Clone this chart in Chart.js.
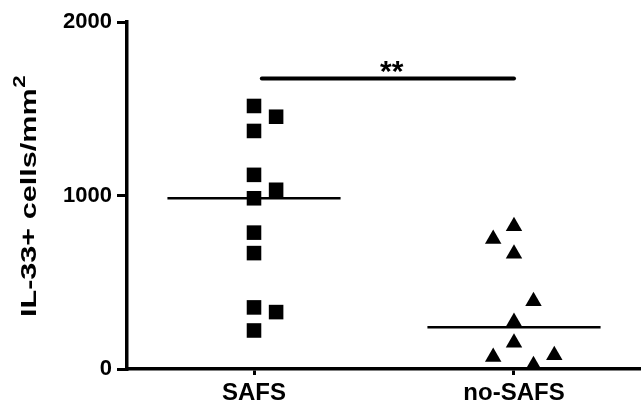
<!DOCTYPE html>
<html>
<head>
<meta charset="utf-8">
<script src="https://cdn.jsdelivr.net/npm/chart.js@4/dist/chart.umd.min.js"></script>
<style>
  body { margin: 0; background: #fff; }
  #wrap { width: 641px; height: 414px; }
</style>
</head>
<body>
<div id="wrap"><canvas id="canvas1" width="641" height="414"></canvas></div>
<script>
// groups on the x axis
let groupNames = ["SAFS", "no-SAFS"];
let groupPos = [1, 2];

// SAFS (squares) - x is group position plus a little jitter
let safsX = [1.0, 1.085, 1.0, 1.0, 1.085, 1.0, 1.0, 1.0, 1.0, 1.085, 1.0];
let safsY = [1516, 1454, 1372, 1119, 1033, 984, 786, 668, 355, 328, 222];

// no-SAFS (triangles)
let noSafsX = [2.0, 1.92, 2.0, 2.075, 2.0, 2.0, 1.92, 2.155, 2.075];
let noSafsY = [823, 750, 664, 391, 271, 151, 69, 79, 21];

// median lines
let medianY = [984, 240];
let medianHalfWidth = 0.333;

// significance bar
let sigX = [1.03, 2.0];
let sigY = 1675;
let sigLabel = "**";

let yTicks = [0, 1000, 2000];
let yTitle = "IL-33+ cells/mm";
let yTitleSup = "2";

let ctx = document.getElementById("canvas1").getContext("2d");

function toPoints(xs, ys) {
  return xs.map((x, i) => ({ x: x, y: ys[i] }));
}

let fam = "'Liberation Sans', Arial, sans-serif";

// stars over the bar + the stretched y title (the original's title is drawn wide)
let textPlugin = {
  id: "texts",
  afterDraw(chart) {
    let c = chart.ctx;
    let xs = chart.scales.x, ys = chart.scales.y;
    c.save();
    c.fillStyle = "#000";
    c.font = "bold 30px " + fam;
    c.textAlign = "center";
    c.textBaseline = "alphabetic";
    c.fillText(sigLabel, xs.getPixelForValue(1.53), ys.getPixelForValue(sigY) + 3);
    c.restore();

    c.save();
    c.fillStyle = "#000";
    c.translate(36, 317);
    c.rotate(-Math.PI / 2);
    c.scale(1.39, 1);
    c.textAlign = "left";
    c.textBaseline = "alphabetic";
    c.font = "bold 22px " + fam;
    c.fillText(yTitle, 0, 0);
    let w = c.measureText(yTitle).width;
    c.font = "bold 16px " + fam;
    c.fillText(yTitleSup, w + 0.5, -11);
    c.restore();
  },
};

let config = {
  type: "scatter",
  data: {
    datasets: [
      {
        label: "SAFS",
        data: toPoints(safsX, safsY),
        pointStyle: "rect",
        pointRadius: 10.3,
        backgroundColor: "#000",
        borderColor: "#000",
        borderWidth: 0,
        clip: false,
      },
      {
        label: "no-SAFS",
        data: toPoints(noSafsX, noSafsY),
        pointStyle: "triangle",
        pointRadius: 9.5,
        backgroundColor: "#000",
        borderColor: "#000",
        borderWidth: 0,
        clip: false,
      },
      ...groupPos.map((g, i) => ({
        type: "line",
        data: [
          { x: g - medianHalfWidth, y: medianY[i] },
          { x: g + medianHalfWidth, y: medianY[i] },
        ],
        borderColor: "#000",
        borderWidth: 2.5,
        pointRadius: 0,
        clip: false,
      })),
      {
        type: "line",
        data: [
          { x: sigX[0], y: sigY },
          { x: sigX[1], y: sigY },
        ],
        borderColor: "#000",
        borderWidth: 4,
        borderCapStyle: "round",
        pointRadius: 0,
        clip: false,
      },
    ],
  },
  options: {
    responsive: false,
    animation: false,
    layout: { autoPadding: false, padding: { top: 22, right: 0, left: 0, bottom: 0 } },
    plugins: {
      legend: { display: false },
      tooltip: { enabled: false },
    },
    scales: {
      x: {
        type: "linear",
        min: 0.5115,
        max: 2.4885,
        afterBuildTicks: (s) => {
          s.ticks = groupPos.map((v) => ({ value: v }));
        },
        afterFit: (s) => {
          s.height = 45;
          s.paddingLeft = 0;
          s.paddingRight = 0;
        },
        ticks: {
          callback: (v) => groupNames[groupPos.indexOf(v)],
          font: { family: fam, size: 24, weight: "bold" },
          color: "#000",
          padding: 4,
          maxRotation: 0,
        },
        grid: {
          drawOnChartArea: false,
          drawTicks: true,
          tickLength: 6,
          lineWidth: 3,
          color: "#000",
        },
        border: { display: true, width: 3.5, color: "#000" },
      },
      y: {
        min: 0,
        max: 2000,
        afterBuildTicks: (s) => {
          s.ticks = yTicks.map((v) => ({ value: v }));
        },
        afterFit: (s) => {
          s.width = 127;
        },
        ticks: {
          callback: (v) => String(v),
          font: { family: fam, size: 22, weight: "bold" },
          color: "#000",
          padding: 5,
        },
        grid: {
          drawOnChartArea: false,
          drawTicks: true,
          tickLength: 10,
          lineWidth: 3,
          color: "#000",
        },
        border: { display: true, width: 3.5, color: "#000" },
      },
    },
  },
  plugins: [textPlugin],
};

let chart1 = new Chart(ctx, config);
</script>
</body>
</html>
